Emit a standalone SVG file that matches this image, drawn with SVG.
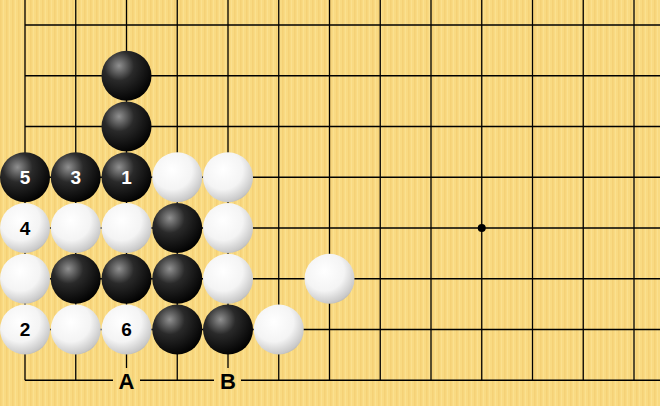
<svg xmlns="http://www.w3.org/2000/svg" width="660" height="406" viewBox="0 0 660 406">
<defs>
<pattern id="wood" width="6" height="10" patternUnits="userSpaceOnUse">
<rect width="6" height="10" fill="#F9DA82"/>
<rect x="0" width="1.5" height="10" fill="#F5D176"/>
<rect x="3" width="1" height="10" fill="#FBE08F"/>
</pattern>
<radialGradient id="gb" cx="0.35" cy="0.3" r="0.75">
<stop offset="0" stop-color="#909090"/>
<stop offset="0.4" stop-color="#2a2a2a"/>
<stop offset="1" stop-color="#000"/>
</radialGradient>
<radialGradient id="gw" cx="0.4" cy="0.35" r="0.72">
<stop offset="0" stop-color="#ffffff"/>
<stop offset="0.55" stop-color="#f4f4f4"/>
<stop offset="0.9" stop-color="#c8c8c8"/>
<stop offset="1" stop-color="#a8a8a8"/>
</radialGradient>
<circle id="b" r="25" fill="url(#gb)"/>
<circle id="w" r="25" fill="url(#gw)"/>
</defs>
<style>
.g{stroke:#000;stroke-width:1.3}
.lbl{font-family:"Liberation Sans",Arial,sans-serif;font-weight:bold;text-anchor:middle}
.num{font-size:19px}
.coord{font-size:22px;fill:#000}
</style>
<rect width="660" height="406" fill="url(#wood)"/>
<g id="grid" class="g">
<line x1="25" y1="0" x2="25" y2="380.25"/>
<line x1="75.75" y1="0" x2="75.75" y2="380.25"/>
<line x1="126.5" y1="0" x2="126.5" y2="380.25"/>
<line x1="177.25" y1="0" x2="177.25" y2="380.25"/>
<line x1="228" y1="0" x2="228" y2="380.25"/>
<line x1="278.75" y1="0" x2="278.75" y2="380.25"/>
<line x1="329.5" y1="0" x2="329.5" y2="380.25"/>
<line x1="380.25" y1="0" x2="380.25" y2="380.25"/>
<line x1="431" y1="0" x2="431" y2="380.25"/>
<line x1="481.75" y1="0" x2="481.75" y2="380.25"/>
<line x1="532.5" y1="0" x2="532.5" y2="380.25"/>
<line x1="583.25" y1="0" x2="583.25" y2="380.25"/>
<line x1="634" y1="0" x2="634" y2="380.25"/>
<line x1="25" y1="25" x2="660" y2="25"/>
<line x1="25" y1="75.75" x2="660" y2="75.75"/>
<line x1="25" y1="126.5" x2="660" y2="126.5"/>
<line x1="25" y1="177.25" x2="660" y2="177.25"/>
<line x1="25" y1="228" x2="660" y2="228"/>
<line x1="25" y1="278.75" x2="660" y2="278.75"/>
<line x1="25" y1="329.5" x2="660" y2="329.5"/>
<line x1="25" y1="380.25" x2="660" y2="380.25"/>
<circle cx="481.75" cy="228" r="4" fill="#000" stroke="none"/>
</g>
<g id="coords" class="lbl coord">
<rect x="113" y="368" width="27" height="24" fill="url(#wood)"/>
<text x="126.5" y="388.5">A</text>
<rect x="214" y="368" width="27" height="24" fill="url(#wood)"/>
<text x="228" y="388.5">B</text>
</g>
<g id="stones">
<use href="#b" x="126.5" y="75.75"/>
<use href="#b" x="126.5" y="126.5"/>
<use href="#b" x="25" y="177.25"/>
<use href="#b" x="75.75" y="177.25"/>
<use href="#b" x="126.5" y="177.25"/>
<use href="#w" x="177.25" y="177.25"/>
<use href="#w" x="228" y="177.25"/>
<use href="#w" x="25" y="228"/>
<use href="#w" x="75.75" y="228"/>
<use href="#w" x="126.5" y="228"/>
<use href="#b" x="177.25" y="228"/>
<use href="#w" x="228" y="228"/>
<use href="#w" x="25" y="278.75"/>
<use href="#b" x="75.75" y="278.75"/>
<use href="#b" x="126.5" y="278.75"/>
<use href="#b" x="177.25" y="278.75"/>
<use href="#w" x="228" y="278.75"/>
<use href="#w" x="329.5" y="278.75"/>
<use href="#w" x="25" y="329.5"/>
<use href="#w" x="75.75" y="329.5"/>
<use href="#w" x="126.5" y="329.5"/>
<use href="#b" x="177.25" y="329.5"/>
<use href="#b" x="228" y="329.5"/>
<use href="#w" x="278.75" y="329.5"/>
</g>
<g id="numbers" class="lbl num">
<text x="25" y="184" fill="#fff">5</text>
<text x="75.75" y="184" fill="#fff">3</text>
<text x="126.5" y="184" fill="#fff">1</text>
<text x="25" y="234.8" fill="#000">4</text>
<text x="25" y="336.3" fill="#000">2</text>
<text x="126.5" y="336.3" fill="#000">6</text>
</g>
</svg>
